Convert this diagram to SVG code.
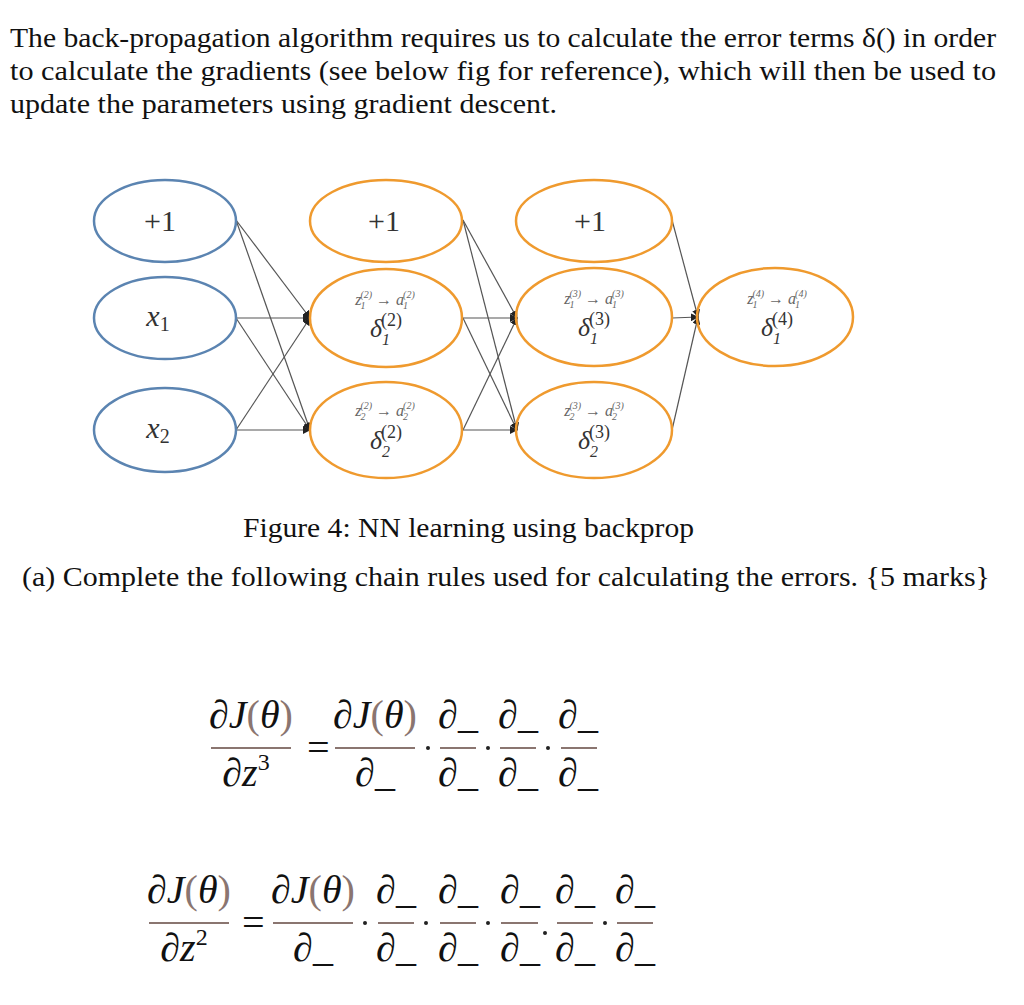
<svg xmlns="http://www.w3.org/2000/svg" width="1024" height="1005" viewBox="0 0 1024 1005">
<defs>
<marker id="ar" viewBox="0 0 10 10" refX="9" refY="5" markerWidth="8" markerHeight="8" orient="auto" markerUnits="userSpaceOnUse"><path d="M0,0 L10,5 L0,10 z" fill="#222"/></marker>
<style>
.p{font-family:"Liberation Serif",serif;font-size:27px;fill:#111}
.b{fill:none;stroke:#5b84b1;stroke-width:2.5}
.o{fill:none;stroke:#ef9a2e;stroke-width:2.5}
.big{font-family:"Liberation Serif",serif;font-size:30px;fill:#333;text-anchor:middle}
.za{font-family:"Liberation Serif",serif;font-style:italic;font-size:16px;fill:#666;text-anchor:middle}
.dl{font-family:"Liberation Serif",serif;font-style:italic;font-size:26px;fill:#333;text-anchor:middle}
.c line{stroke:#555;stroke-width:1.2;marker-end:url(#ar)}
.m{font-family:"Liberation Serif",serif;font-style:italic;font-size:40px;fill:#111;text-anchor:middle}
.pr{fill:#8a7570;font-style:normal}
.fl{stroke:#8a7570;stroke-width:2}
.dot{fill:#222}
</style>
</defs>
<rect width="1024" height="1005" fill="#fff"/>
<text class="p" x="10" y="47" textLength="986" lengthAdjust="spacingAndGlyphs">The back-propagation algorithm requires us to calculate the error terms δ() in order</text>
<text class="p" x="10" y="80" textLength="986" lengthAdjust="spacingAndGlyphs">to calculate the gradients (see below fig for reference), which will then be used to</text>
<text class="p" x="10" y="113" textLength="547" lengthAdjust="spacingAndGlyphs">update the parameters using gradient descent.</text>

<g class="c" id="connectors">
<line x1="236" y1="220" x2="310" y2="318"/><line x1="236" y1="220" x2="310" y2="430"/>
<line x1="236" y1="318" x2="310" y2="318"/><line x1="236" y1="318" x2="310" y2="430"/>
<line x1="236" y1="430" x2="310" y2="318"/><line x1="236" y1="430" x2="310" y2="430"/>
<line x1="463" y1="220" x2="517" y2="318"/><line x1="463" y1="220" x2="517" y2="430"/>
<line x1="463" y1="318" x2="517" y2="318"/><line x1="463" y1="318" x2="517" y2="430"/>
<line x1="463" y1="430" x2="517" y2="318"/><line x1="463" y1="430" x2="517" y2="430"/>
<line x1="672" y1="220" x2="698" y2="317"/><line x1="672" y1="318" x2="698" y2="317"/><line x1="672" y1="430" x2="698" y2="317"/>
</g>

<g id="in_bias"><ellipse class="b" cx="165" cy="221" rx="71" ry="41"/><text class="big" x="160" y="231">+1</text></g>
<g id="in_x1"><ellipse class="b" cx="165" cy="318" rx="71" ry="41"/><text class="big" x="158" y="326"><tspan font-style="italic">x</tspan><tspan font-size="20" dy="5">1</tspan></text></g>
<g id="in_x2"><ellipse class="b" cx="165" cy="430" rx="71" ry="42"/><text class="big" x="158" y="438"><tspan font-style="italic">x</tspan><tspan font-size="20" dy="5">2</tspan></text></g>

<g id="h2_bias"><ellipse class="o" cx="386" cy="221" rx="76" ry="41"/><text class="big" x="384" y="231">+1</text></g>
<g id="h2_1"><ellipse class="o" cx="386" cy="318" rx="76" ry="49"/>
<text class="za" x="385" y="305">z<tspan font-size="10" dx="-1" dy="4">1</tspan><tspan font-size="10" dx="-5" dy="-11">(2)</tspan><tspan dy="7"> → </tspan><tspan>a</tspan><tspan font-size="10" dx="-1" dy="4">1</tspan><tspan font-size="10" dx="-5" dy="-11">(2)</tspan></text>
<text class="dl" x="386" y="337">δ<tspan font-size="16" dy="8">1</tspan><tspan font-size="18" font-style="normal" dx="-9" dy="-19">(2)</tspan></text></g>
<g id="h2_2"><ellipse class="o" cx="386" cy="430" rx="76" ry="48"/>
<text class="za" x="385" y="416">z<tspan font-size="10" dx="-1" dy="4">2</tspan><tspan font-size="10" dx="-5" dy="-11">(2)</tspan><tspan dy="7"> → </tspan><tspan>a</tspan><tspan font-size="10" dx="-1" dy="4">2</tspan><tspan font-size="10" dx="-5" dy="-11">(2)</tspan></text>
<text class="dl" x="386" y="449">δ<tspan font-size="16" dy="8">2</tspan><tspan font-size="18" font-style="normal" dx="-9" dy="-19">(2)</tspan></text></g>

<g id="h3_bias"><ellipse class="o" cx="594" cy="221" rx="78" ry="41"/><text class="big" x="590" y="231">+1</text></g>
<g id="h3_1"><ellipse class="o" cx="594" cy="317" rx="78" ry="49"/>
<text class="za" x="594" y="304">z<tspan font-size="10" dx="-1" dy="4">1</tspan><tspan font-size="10" dx="-5" dy="-11">(3)</tspan><tspan dy="7"> → </tspan><tspan>a</tspan><tspan font-size="10" dx="-1" dy="4">1</tspan><tspan font-size="10" dx="-5" dy="-11">(3)</tspan></text>
<text class="dl" x="594" y="336">δ<tspan font-size="16" dy="8">1</tspan><tspan font-size="18" font-style="normal" dx="-9" dy="-19">(3)</tspan></text></g>
<g id="h3_2"><ellipse class="o" cx="594" cy="430" rx="78" ry="48"/>
<text class="za" x="594" y="416">z<tspan font-size="10" dx="-1" dy="4">2</tspan><tspan font-size="10" dx="-5" dy="-11">(3)</tspan><tspan dy="7"> → </tspan><tspan>a</tspan><tspan font-size="10" dx="-1" dy="4">2</tspan><tspan font-size="10" dx="-5" dy="-11">(3)</tspan></text>
<text class="dl" x="594" y="449">δ<tspan font-size="16" dy="8">2</tspan><tspan font-size="18" font-style="normal" dx="-9" dy="-19">(3)</tspan></text></g>

<g id="out"><ellipse class="o" cx="775" cy="317" rx="78" ry="49"/>
<text class="za" x="777" y="304">z<tspan font-size="10" dx="-1" dy="4">1</tspan><tspan font-size="10" dx="-5" dy="-11">(4)</tspan><tspan dy="7"> → </tspan><tspan>a</tspan><tspan font-size="10" dx="-1" dy="4">1</tspan><tspan font-size="10" dx="-5" dy="-11">(4)</tspan></text>
<text class="dl" x="777" y="336">δ<tspan font-size="16" dy="8">1</tspan><tspan font-size="18" font-style="normal" dx="-9" dy="-19">(4)</tspan></text></g>

<text class="p" x="243" y="537" textLength="451" lengthAdjust="spacingAndGlyphs">Figure 4: NN learning using backprop</text>
<text class="p" x="22" y="586" textLength="968" lengthAdjust="spacingAndGlyphs">(a) Complete the following chain rules used for calculating the errors. {5 marks}</text>

<g id="eq1">
<text class="m" x="251" y="728">∂J<tspan class="pr">(</tspan>θ<tspan class="pr">)</tspan></text>
<line class="fl" x1="211" y1="748" x2="291" y2="748"/>
<text class="m" x="246" y="786">∂z<tspan font-size="24" font-style="normal" dy="-16">3</tspan></text>
<text class="m" x="318" y="761" font-style="normal">=</text>
<text class="m" x="375" y="728">∂J<tspan class="pr">(</tspan>θ<tspan class="pr">)</tspan></text>
<line class="fl" x1="335" y1="748" x2="415" y2="748"/>
<text class="m" x="375" y="786">∂_</text>
<circle class="dot" cx="428" cy="748" r="2"/>
<text class="m" x="458" y="728">∂_</text><line class="fl" x1="440" y1="748" x2="476" y2="748"/><text class="m" x="458" y="786">∂_</text>
<circle class="dot" cx="488" cy="748" r="2"/>
<text class="m" x="518" y="728">∂_</text><line class="fl" x1="500" y1="748" x2="536" y2="748"/><text class="m" x="518" y="786">∂_</text>
<circle class="dot" cx="548" cy="748" r="2"/>
<text class="m" x="578" y="728">∂_</text><line class="fl" x1="561" y1="748" x2="597" y2="748"/><text class="m" x="578" y="786">∂_</text>
</g>

<g id="eq2">
<text class="m" x="189" y="903">∂J<tspan class="pr">(</tspan>θ<tspan class="pr">)</tspan></text>
<line class="fl" x1="149" y1="923" x2="229" y2="923"/>
<text class="m" x="184" y="961">∂z<tspan font-size="24" font-style="normal" dy="-16">2</tspan></text>
<text class="m" x="253" y="936" font-style="normal">=</text>
<text class="m" x="313" y="903">∂J<tspan class="pr">(</tspan>θ<tspan class="pr">)</tspan></text>
<line class="fl" x1="273" y1="923" x2="353" y2="923"/>
<text class="m" x="313" y="961">∂_</text>
<circle class="dot" cx="365" cy="923" r="2"/>
<text class="m" x="396" y="903">∂_</text><line class="fl" x1="378" y1="923" x2="414" y2="923"/><text class="m" x="396" y="961">∂_</text>
<circle class="dot" cx="426" cy="923" r="2"/>
<text class="m" x="458" y="903">∂_</text><line class="fl" x1="440" y1="923" x2="476" y2="923"/><text class="m" x="458" y="961">∂_</text>
<circle class="dot" cx="488" cy="923" r="2"/>
<text class="m" x="520" y="903">∂_</text><line class="fl" x1="501" y1="923" x2="538" y2="923"/><text class="m" x="520" y="961">∂_</text>
<circle class="dot" cx="545" cy="933" r="2"/>
<text class="m" x="575" y="903">∂_</text><line class="fl" x1="557" y1="923" x2="593" y2="923"/><text class="m" x="575" y="961">∂_</text>
<circle class="dot" cx="605" cy="923" r="2"/>
<text class="m" x="635" y="903">∂_</text><line class="fl" x1="617" y1="923" x2="653" y2="923"/><text class="m" x="635" y="961">∂_</text>
</g>
</svg>
